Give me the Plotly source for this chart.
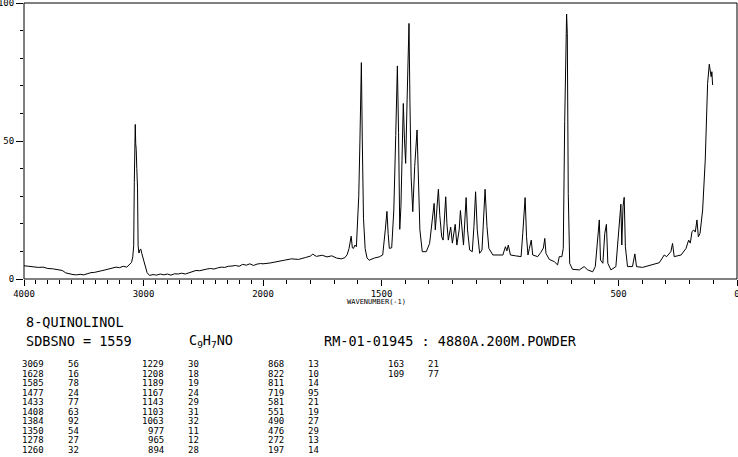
import plotly.graph_objects as go

# ---- spectrum trace (wavenumber cm-1, relative intensity) ----
wavenumber = [
    4000, 3960, 3920, 3880, 3840, 3800, 3760, 3720, 3680, 3650, 3620, 3590, 3560, 3530,
    3500, 3470, 3440, 3410, 3380, 3350, 3320, 3290, 3260, 3230, 3200, 3170, 3140, 3115,
    3100, 3090, 3082, 3077, 3072, 3069, 3065, 3061, 3056, 3050, 3045, 3038, 3030, 3022,
    3014, 3005, 2995, 2985, 2970, 2950, 2920, 2890, 2860, 2830, 2800, 2770, 2740, 2710,
    2680, 2650, 2620, 2590, 2560, 2530, 2500, 2470, 2440, 2410, 2380, 2350, 2320, 2290,
    2260, 2230, 2200, 2170, 2140, 2110, 2080, 2050, 2020,
    2000, 1970, 1940, 1910, 1880, 1850, 1820, 1800, 1790, 1775, 1750, 1730, 1710, 1690,
    1670, 1655, 1645, 1637, 1628, 1623, 1618, 1612, 1606, 1601, 1596, 1591, 1585, 1581,
    1576, 1569, 1561, 1552, 1530, 1510, 1495, 1484, 1477, 1472, 1467, 1457, 1448, 1440,
    1433, 1428, 1423, 1418, 1412, 1408, 1403, 1398, 1392, 1384, 1380, 1375, 1368, 1360,
    1350, 1345, 1338, 1328, 1311, 1297, 1287, 1278, 1273, 1268, 1260, 1254, 1246, 1240,
    1229, 1224, 1218, 1212, 1208, 1201, 1189, 1182, 1172, 1167, 1161, 1154, 1143, 1137,
    1128, 1117, 1110, 1103, 1096, 1086, 1076, 1068, 1063, 1055, 1047, 1030, 1009, 988,
    977, 971, 965, 956, 935, 911, 904, 894, 888, 882, 876, 868, 862, 841, 828, 822, 817,
    811, 806, 792, 771, 757, 750, 739, 733, 727, 719, 716, 712, 706, 694, 665, 645, 630,
    609, 598, 590, 581, 576, 566, 558, 551, 545, 532, 511, 500, 490, 486, 481, 476, 471,
    462, 441, 431, 424, 399, 357, 328, 307, 297, 279, 272, 265, 236, 215, 204, 197, 190,
    183, 176, 169, 163, 156, 145, 134, 124, 117, 109, 106, 103, 101,
]
intensity = [
    4.8, 4.6, 4.5, 4.2, 4.3, 3.8, 3.7, 3.3, 3.1, 2.2, 1.8, 1.6, 1.5, 1.7,
    1.5, 1.9, 2.3, 2.4, 2.8, 3.0, 3.3, 3.6, 3.9, 4.3, 4.1, 4.6, 4.3, 5.2,
    6.0, 8.0, 12.0, 35.0, 50.0, 56.0, 49.0, 47.0, 40.0, 33.0, 12.0, 9.4, 10.6, 10.8,
    9.2, 7.8, 5.5, 4.0, 2.3, 1.3, 1.6, 1.4, 1.8, 1.5, 1.8, 1.4, 1.9, 1.8,
    2.1, 1.8, 2.3, 2.7, 3.1, 3.0, 3.4, 3.6, 3.8, 3.6, 4.0, 4.3, 4.2, 4.6,
    4.7, 4.9, 4.6, 5.3, 5.0, 5.5, 4.9, 5.4, 5.6,
    5.5, 5.8, 6.4, 6.8, 7.3, 7.1, 7.8, 8.3, 9.0, 8.2, 8.6, 8.0, 8.4, 7.6,
    7.3, 7.7, 8.8, 11.0, 15.5, 11.3, 11.1, 12.3, 11.7, 20.0, 30.0, 50.0, 78.4, 50.0,
    22.0, 11.0, 7.6, 6.8, 7.6, 8.0, 8.7, 17.8, 24.5, 16.5, 11.1, 11.3, 25.0, 52.0,
    77.2, 53.0, 18.0, 26.2, 57.6, 63.6, 50.4, 41.9, 64.9, 92.6, 64.0, 37.0, 24.4, 40.7,
    54.0, 38.4, 17.8, 9.9, 9.9, 12.9, 20.8, 27.4, 17.8, 23.9, 32.5, 23.0, 15.3, 14.1,
    29.8, 20.0, 14.1, 17.0, 18.8, 13.0, 19.8, 12.3, 18.0, 24.8, 17.8, 12.3, 29.5, 17.8,
    10.5, 9.9, 19.0, 31.6, 17.8, 9.3, 10.5, 23.9, 32.5, 19.0, 11.1, 8.7, 8.7, 8.7,
    11.7, 10.2, 12.3, 8.7, 8.4, 8.1, 16.5, 29.5, 15.3, 8.7, 11.1, 14.1, 8.7, 8.1, 9.6, 10.7, 11.2,
    14.7, 9.3, 7.1, 6.3, 5.1, 8.1, 8.1, 11.1, 57.0, 96.0, 89.0, 31.0, 5.7, 3.5, 3.3, 4.5, 3.3,
    2.6, 4.5, 12.9, 21.4, 6.9, 5.7, 16.5, 19.8, 5.7, 3.3, 4.5, 17.8, 27.1, 12.3, 26.2, 29.6, 11.7,
    4.5, 4.5, 9.1, 4.5, 4.2, 5.1, 5.9, 8.7, 8.1, 9.9, 12.9, 8.1, 8.7, 11.1, 14.1, 13.0, 17.1,
    17.8, 17.0, 21.4, 15.3, 16.5, 25.0, 43.1, 70.9, 77.8, 73.3, 75.1, 70.3,
]

# ---- peak table printed below the chart ----
peak_wn = [3069, 1628, 1585, 1477, 1433, 1408, 1384, 1350, 1278, 1260,
           1229, 1208, 1189, 1167, 1143, 1103, 1063, 977, 965, 894,
           868, 822, 811, 719, 581, 551, 490, 476, 272, 197,
           163, 109]
peak_int = [56, 16, 78, 24, 77, 63, 92, 54, 27, 32,
            30, 18, 19, 24, 29, 31, 32, 11, 12, 28,
            13, 10, 14, 95, 21, 19, 27, 29, 13, 14,
            21, 77]

x1_ticks = [4000, 3000, 2000]
x2_ticks = [1500, 500, 0]
y_ticks = [0, 50, 100]
compound = "8-QUINOLINOL"
sdbs_no = "SDBSNO = 1559"
formula = "C<sub>9</sub>H<sub>7</sub>NO"
sample = "RM-01-01945 : 4880A.200M.POWDER"
x_title = "WAVENUMBER(-1)"

# ---- layout geometry ----
W, H = 738, 457
ML, MR, MT, MB = 24, 1, 3, 178
PW = W - ML - MR
split_px = 263
frac = (split_px - ML) / PW
MONO = "DejaVu Sans Mono"

fig = go.Figure()
seg1 = [(w, v) for w, v in zip(wavenumber, intensity) if w >= 1940]
seg2 = [(w, v) for w, v in zip(wavenumber, intensity) if w <= 2030]
fig.add_trace(go.Scatter(x=[p[0] for p in seg1], y=[p[1] for p in seg1], mode="lines",
                         line=dict(color="black", width=1), xaxis="x", yaxis="y",
                         hoverinfo="skip", showlegend=False))
fig.add_trace(go.Scatter(x=[p[0] for p in seg2], y=[p[1] for p in seg2], mode="lines",
                         line=dict(color="black", width=1), xaxis="x2", yaxis="y",
                         hoverinfo="skip", showlegend=False))

tickfont = dict(family=MONO, size=9, color="black")
common_x = dict(showgrid=False, zeroline=False, showline=False, ticks="outside",
                ticklen=6, tickwidth=1, tickcolor="black", tickfont=tickfont,
                anchor="y", tickmode="array", automargin=False,
                ticklabeloverflow="allow")
fig.update_layout(
    width=W, height=H, margin=dict(l=ML, r=MR, t=MT, b=MB, pad=0, autoexpand=False),
    paper_bgcolor="white", plot_bgcolor="white",
    xaxis=dict(domain=[0, frac], range=[4000, 2000], tickvals=x1_ticks,
               ticktext=[str(t) for t in x1_ticks],
               minor=dict(tickmode="linear", tick0=0, dtick=100, ticks="outside",
                          ticklen=4, tickcolor="black", tickwidth=1),
               **common_x),
    xaxis2=dict(domain=[frac, 1], range=[2000, 0], tickvals=x2_ticks,
                ticktext=[str(t) for t in x2_ticks],
                minor=dict(tickmode="linear", tick0=0, dtick=100, ticks="outside",
                           ticklen=4, tickcolor="black", tickwidth=1),
                **common_x),
    yaxis=dict(range=[0, 100], tickmode="array", tickvals=y_ticks,
               ticktext=[str(t) for t in y_ticks], showgrid=False, zeroline=False,
               showline=False, ticks="outside", ticklen=7, tickwidth=1, tickcolor="black",
               tickfont=tickfont, automargin=False, ticklabeloverflow="allow",
               minor=dict(tickmode="linear", tick0=0, dtick=10, ticks="outside",
                          ticklen=3, tickcolor="black", tickwidth=1)),
)
fig.add_shape(type="rect", xref="paper", yref="paper", x0=0, x1=1, y0=0, y1=1,
              line=dict(color="black", width=1), fillcolor="rgba(0,0,0,0)")


def text_at(px, py, txt, size, anchor="left"):
    fig.add_annotation(xref="paper", yref="paper", x=0, y=0, xshift=px - ML,
                       yshift=-(py - (H - MB)), text=txt, showarrow=False,
                       xanchor=anchor, yanchor="middle",
                       font=dict(family=MONO, size=size, color="black"))


text_at(376, 302, x_title, 7, "center")
text_at(24, 322, compound, 13.5)
text_at(24, 341, sdbs_no, 13.5)
text_at(187, 341, formula, 13.5)
text_at(322, 341, sample, 13.5)

# peak table: 4 column pairs, 10 rows each
rows = 10
for k, (w, v) in enumerate(zip(peak_wn, peak_int)):
    col, row = divmod(k, rows)
    y = 364 + row * 9.5
    text_at(46 + col * 120, y, str(w), 9, "right")
    text_at(66 + col * 120, y, str(v), 9, "left")

fig.write_html("out.html")
